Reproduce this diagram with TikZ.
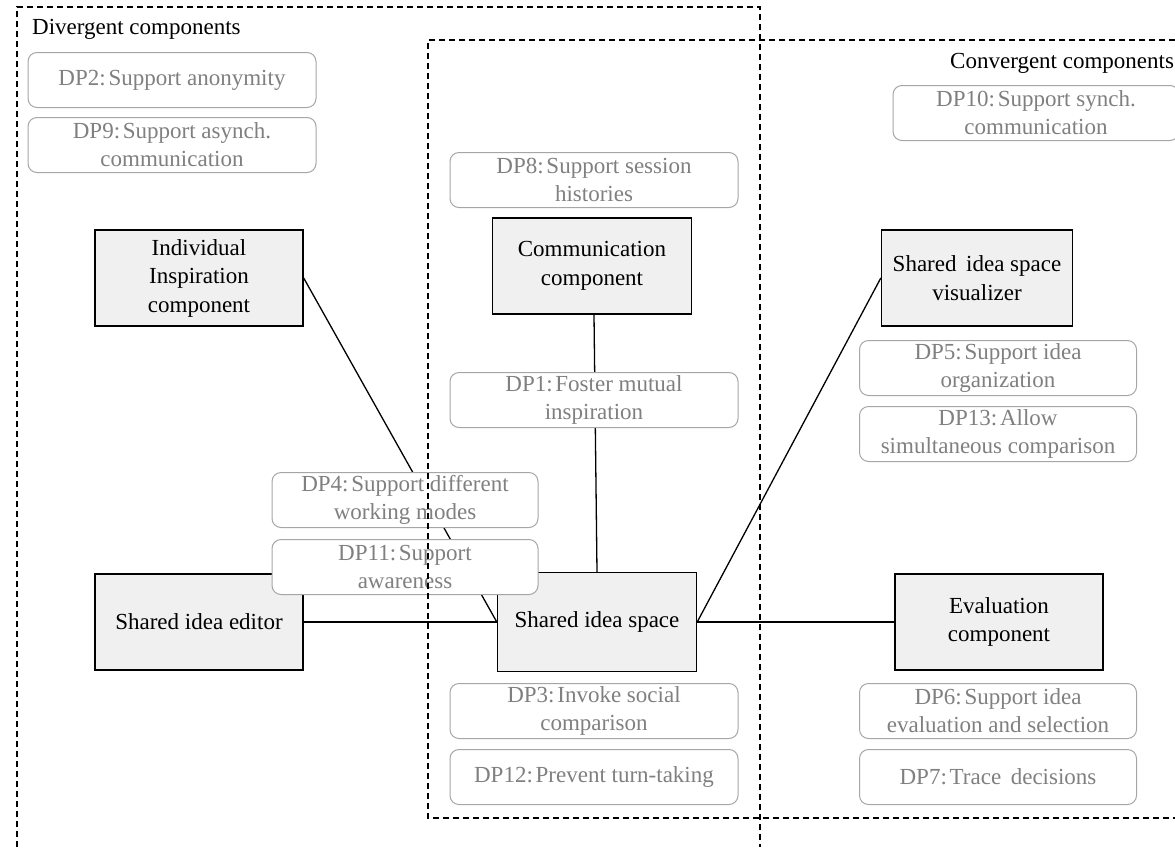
\documentclass[tikz,border=0pt]{standalone}
\usepackage{fontspec}
\setmainfont{Liberation Serif}
\newcommand{\cs}{\hspace{0.12em}}
\begin{document}
\begin{tikzpicture}[x=1pt,y=-1pt,
  comp/.style={draw=black,line width=1.4pt,fill=black!6,minimum width=208pt,minimum height=96pt,inner sep=0pt,align=center,font=\fontsize{23}{28.5}\selectfont},
  dp/.style={draw=black!35,line width=1pt,fill=white,rounded corners=9pt,minimum width=288pt,minimum height=55pt,inner sep=0pt,align=center,text=black!50,font=\fontsize{23}{28}\selectfont},
  frame/.style={line width=1.1pt,dash pattern=on 6pt off 4pt},
  lab/.style={anchor=west,inner sep=0pt,font=\fontsize{23}{28}\selectfont},
  conn/.style={line width=1.3pt}]
\useasboundingbox (0,0) rectangle (1175,847);
% main components
\node[comp] (indiv) at (199,278) {Individual\\Inspiration\\component};
\node[comp,minimum width=199pt] (comm) at (592,266) {Communication\\component};
\node[comp,minimum width=191pt] (vis) at (977,278) {Shared\, idea space\\visualizer};
\node[comp] (editor) at (199,622) {Shared idea editor};
\node[comp,minimum width=199pt,minimum height=99pt] (space) at (597,622) {Shared idea space};
\node[comp] (eval) at (999,622) {Evaluation\\component};
% connectors
\draw[conn] (indiv.east) -- (space.west);
\draw[conn] (editor.east) -- (space.west);
\draw[conn] ([xshift=2pt]comm.south) -- (space.north);
\draw[conn] (space.east) -- (vis.west);
\draw[conn] (space.east) -- (eval.west);
% design principles
\node[dp] (dp2) at (172,80) {DP2:\cs Support anonymity};
\node[dp] (dp9) at (172,145) {DP9:\cs Support asynch.\\communication};
\node[dp,minimum width=286pt] (dp10) at (1036,113) {DP10:\cs Support synch.\\communication};
\node[dp] (dp8) at (594,180) {DP8:\cs Support session\\histories};
\node[dp] (dp1) at (594,400) {DP1:\cs Foster mutual\\inspiration};
\node[dp,minimum width=266pt] (dp4) at (405,500) {DP4:\cs Support different\\working modes};
\node[dp,minimum width=266pt] (dp11) at (405,567) {DP11:\cs Support\\awareness};
\node[dp] (dp3) at (594,711) {DP3:\cs Invoke social\\comparison};
\node[dp] (dp12) at (594,777) {DP12:\cs Prevent turn-taking};
\node[dp,minimum width=277pt] (dp5) at (998,368) {DP5:\cs Support idea\\organization};
\node[dp,minimum width=277pt] (dp13) at (998,434) {DP13:\cs Allow\\simultaneous comparison};
\node[dp,minimum width=277pt] (dp6) at (998,711) {DP6:\cs Support idea\\evaluation and selection};
\node[dp,minimum width=277pt] (dp7) at (998,777) {DP7:\cs Trace\, decisions};
% frames
\coordinate (d1) at (17,847);
\coordinate (d2) at (17,7);
\coordinate (d3) at (760,7);
\coordinate (d4) at (760,847);
\draw[frame] (d1) -- (d2) -- (d3) -- (d4);
\coordinate (c1) at (1175,40);
\coordinate (c2) at (428,40);
\coordinate (c3) at (428,818);
\coordinate (c4) at (1175,818);
\draw[frame] (c1) -- (c2) -- (c3) -- (c4);
\node[lab] (divlab) at (32,29) {Divergent components};
\node[lab] (convlab) at (950,63) {Convergent components};
\end{tikzpicture}
\end{document}
